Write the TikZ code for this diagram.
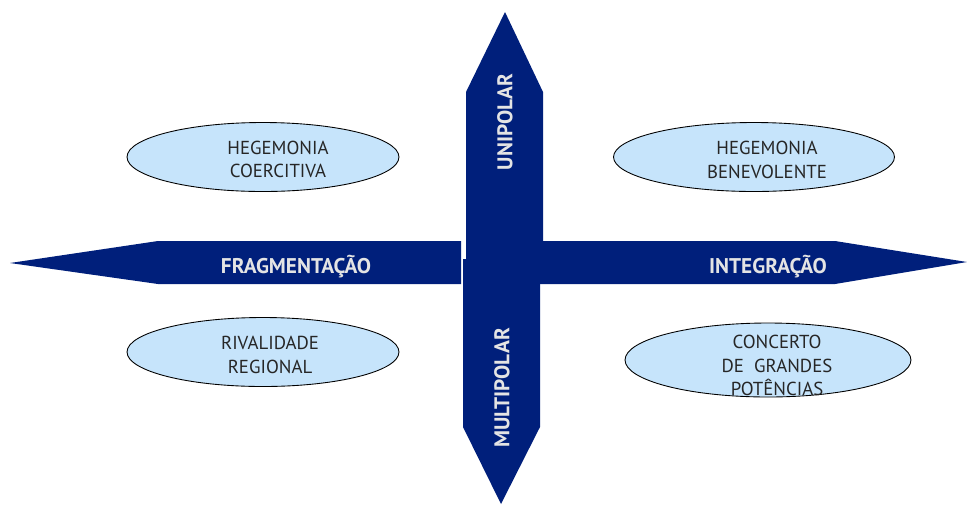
\documentclass[tikz,border=0pt]{standalone}
\usepackage{fontspec}
\setmainfont{PT Sans}
\usepackage{tikz}
\usetikzlibrary{shapes,arrows,positioning}

\definecolor{navy}{RGB}{0,31,123}
\definecolor{paleblue}{RGB}{198,228,251}
\definecolor{lightgrey}{RGB}{228,228,228}

\tikzset{
  bar/.style={fill=navy,draw=none},
  pole/.style={ellipse,draw=black,line width=0.5pt,fill=paleblue,inner sep=0pt},
  poletext/.style={align=center,font=\fontsize{10.7}{13.4}\selectfont,text=black!85},
  axislabel/.style={font=\fontsize{12.1}{14}\selectfont\bfseries,text=lightgrey,inner sep=0pt}
}

\begin{document}
\begin{tikzpicture}[x=0.02cm,y=-0.02cm]
    \useasboundingbox (0,0) rectangle (967,505);

    % axes
    \fill[bar] (10,263) -- (158,241) -- (461,241) -- (461,284) -- (158,284) -- cycle;
    \fill[bar] (540,241) -- (835,241) -- (967,262) -- (835,284) -- (540,284) -- cycle;
    \fill[bar] (466,245) -- (466,92) -- (505,12) -- (543,92) -- (543,245) -- cycle;
    \fill[bar] (463,259) -- (463,427) -- (501,504) -- (540,427) -- (540,259) -- cycle;
    \fill[bar] (466,241) rectangle (543,259);

    \node[axislabel] (frag) at (296,267) {FRAGMENTAÇÃO};
    \node[axislabel] (integ) at (768,267) {INTEGRAÇÃO};
    \node[axislabel,rotate=90] (uni) at (505,122) {UNIPOLAR};
    \node[axislabel,rotate=90] (multi) at (502,388) {MULTIPOLAR};

    % quadrants
    \node[pole,minimum width=5.44cm,minimum height=1.38cm] (coerc) at (263,157) {};
    \node[pole,minimum width=5.62cm,minimum height=1.38cm] (benev) at (754,157) {};
    \node[pole,minimum width=5.44cm,minimum height=1.38cm] (rival) at (263,352) {};
    \node[pole,minimum width=5.72cm,minimum height=1.48cm] (concert) at (768,360) {};

    \node[poletext] (coerctext) at ([xshift=0.30cm,yshift=-0.05cm]coerc.center) {HEGEMONIA\\COERCITIVA};
    \node[poletext] (benevtext) at ([xshift=0.26cm,yshift=-0.06cm]benev.center) {HEGEMONIA\\BENEVOLENTE};
    \node[poletext] (rivaltext) at ([xshift=0.14cm,yshift=-0.06cm]rival.center) {RIVALIDADE\\REGIONAL};
    \node[poletext] (concerttext) at ([xshift=0.18cm,yshift=-0.11cm]concert.center) {CONCERTO\\DE\ \ GRANDES\\POTÊNCIAS};
\end{tikzpicture}
\end{document}
